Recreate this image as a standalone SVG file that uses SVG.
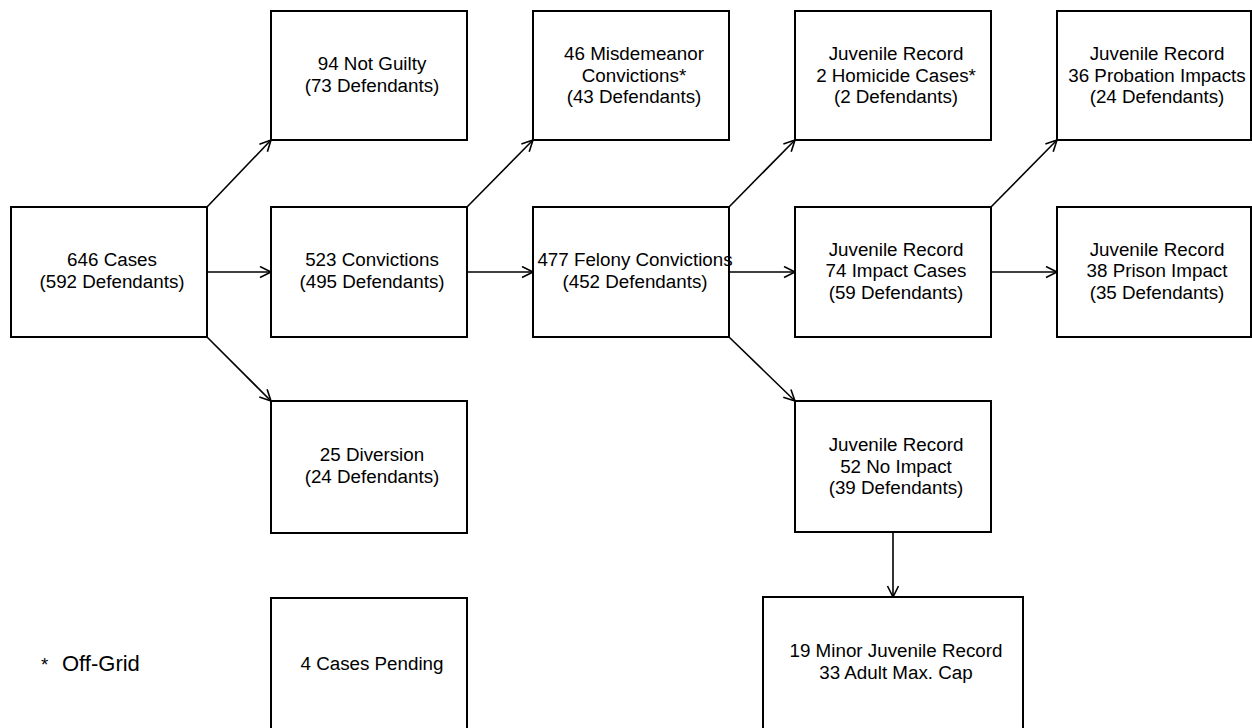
<svg xmlns="http://www.w3.org/2000/svg" width="1252" height="728" viewBox="0 0 1252 728">
<style>
  .box { fill: #ffffff; stroke: #000000; stroke-width: 2; }
  .lbl { font-family: "Liberation Sans", Arial, sans-serif; font-size: 18.8px; fill: #000000; text-anchor: middle; }
  .note { font-family: "Liberation Sans", Arial, sans-serif; font-size: 22px; fill: #000000; }
  .conn { stroke: #000000; stroke-width: 1.6; fill: none; marker-end: url(#arr); }
</style>
<defs>
  <marker id="arr" markerUnits="userSpaceOnUse" markerWidth="14" markerHeight="14" viewBox="0 0 14 14" refX="12" refY="6" orient="auto">
    <path d="M1,0.5 L12,6 L1,11.5" fill="none" stroke="#000000" stroke-width="1.6"/>
  </marker>
</defs>
<rect x="0" y="0" width="1252" height="728" fill="#ffffff"/>

<g id="connectors">
  <line class="conn" x1="207" y1="207" x2="271" y2="140"/>
  <line class="conn" x1="207" y1="272" x2="271" y2="272"/>
  <line class="conn" x1="207" y1="337" x2="271" y2="401"/>
  <line class="conn" x1="467" y1="207" x2="533" y2="140"/>
  <line class="conn" x1="467" y1="272" x2="533" y2="272"/>
  <line class="conn" x1="729" y1="207" x2="795" y2="140"/>
  <line class="conn" x1="729" y1="272" x2="795" y2="272"/>
  <line class="conn" x1="729" y1="337" x2="795" y2="401"/>
  <line class="conn" x1="991" y1="207" x2="1057" y2="140"/>
  <line class="conn" x1="991" y1="272" x2="1057" y2="272"/>
  <line class="conn" x1="893" y1="532" x2="893" y2="597"/>
</g>

<g id="n-cases">
  <rect class="box" x="11" y="207" width="196" height="130"/>
  <text class="lbl" x="112" y="266">646 Cases</text>
  <text class="lbl" x="112" y="287.7">(592 Defendants)</text>
</g>
<g id="n-notguilty">
  <rect class="box" x="271" y="11" width="196" height="129"/>
  <text class="lbl" x="372" y="70">94 Not Guilty</text>
  <text class="lbl" x="372" y="91.7">(73 Defendants)</text>
</g>
<g id="n-convictions">
  <rect class="box" x="271" y="207" width="196" height="130"/>
  <text class="lbl" x="372" y="266">523 Convictions</text>
  <text class="lbl" x="372" y="287.7">(495 Defendants)</text>
</g>
<g id="n-diversion">
  <rect class="box" x="271" y="401" width="196" height="132"/>
  <text class="lbl" x="372" y="461">25 Diversion</text>
  <text class="lbl" x="372" y="482.7">(24 Defendants)</text>
</g>
<g id="n-pending">
  <rect class="box" x="271" y="598" width="196" height="140"/>
  <text class="lbl" x="372" y="669.5">4 Cases Pending</text>
</g>
<g id="n-misdemeanor">
  <rect class="box" x="533" y="11" width="196" height="129"/>
  <text class="lbl" x="634" y="60">46 Misdemeanor</text>
  <text class="lbl" x="634" y="81.7">Convictions*</text>
  <text class="lbl" x="634" y="103.4">(43 Defendants)</text>
</g>
<g id="n-felony">
  <rect class="box" x="533" y="207" width="196" height="130"/>
  <text class="lbl" x="635" y="266">477 Felony Convictions</text>
  <text class="lbl" x="635" y="287.7">(452 Defendants)</text>
</g>
<g id="n-homicide">
  <rect class="box" x="795" y="11" width="196" height="129"/>
  <text class="lbl" x="896" y="60">Juvenile Record</text>
  <text class="lbl" x="896" y="81.7">2 Homicide Cases*</text>
  <text class="lbl" x="896" y="103.4">(2 Defendants)</text>
</g>
<g id="n-impact">
  <rect class="box" x="795" y="207" width="196" height="130"/>
  <text class="lbl" x="896" y="255.5">Juvenile Record</text>
  <text class="lbl" x="896" y="277.2">74 Impact Cases</text>
  <text class="lbl" x="896" y="298.9">(59 Defendants)</text>
</g>
<g id="n-noimpact">
  <rect class="box" x="795" y="401" width="196" height="131"/>
  <text class="lbl" x="896" y="451">Juvenile Record</text>
  <text class="lbl" x="896" y="472.7">52 No Impact</text>
  <text class="lbl" x="896" y="494.4">(39 Defendants)</text>
</g>
<g id="n-minor">
  <rect class="box" x="763" y="597" width="260" height="140"/>
  <text class="lbl" x="896" y="657">19 Minor Juvenile Record</text>
  <text class="lbl" x="896" y="678.7">33 Adult Max. Cap</text>
</g>
<g id="n-probation">
  <rect class="box" x="1057" y="11" width="194" height="129"/>
  <text class="lbl" x="1157" y="60">Juvenile Record</text>
  <text class="lbl" x="1157" y="81.7">36 Probation Impacts</text>
  <text class="lbl" x="1157" y="103.4">(24 Defendants)</text>
</g>
<g id="n-prison">
  <rect class="box" x="1057" y="207" width="194" height="130"/>
  <text class="lbl" x="1157" y="255.5">Juvenile Record</text>
  <text class="lbl" x="1157" y="277.2">38 Prison Impact</text>
  <text class="lbl" x="1157" y="298.9">(35 Defendants)</text>
</g>
<g id="legend">
  <text class="note" y="671"><tspan x="41" font-size="18.8">*</tspan><tspan x="62">Off-Grid</tspan></text>
</g>
</svg>
